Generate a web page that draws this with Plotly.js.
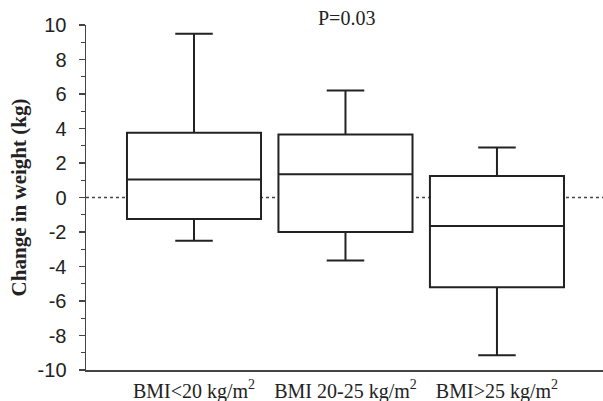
<!DOCTYPE html>
<html>
<head>
<meta charset="utf-8">
<script src="https://cdn.plot.ly/plotly-3.0.1.min.js"></script>
<style>html,body{margin:0;padding:0;background:#fff;}#chart{width:603px;height:401px;}</style>
</head>
<body>
<div id="chart"></div>
<script>
const categories = ["BMI<20 kg/m<sup>2</sup>", "BMI 20-25 kg/m<sup>2</sup>", "BMI>25 kg/m<sup>2</sup>"];
const lowerWhisker = [-2.5, -3.65, -9.15];
const q1Values = [-1.25, -2.0, -5.2];
const medianValues = [1.05, 1.35, -1.65];
const q3Values = [3.75, 3.65, 1.25];
const upperWhisker = [9.5, 6.2, 2.9];
const yTickVals = [-10, -8, -6, -4, -2, 0, 2, 4, 6, 8, 10];
const pLabel = "P=0.03";

const trace = {
  type: 'box',
  x: categories,
  q1: q1Values,
  median: medianValues,
  q3: q3Values,
  lowerfence: lowerWhisker,
  upperfence: upperWhisker,
  width: 0.885,
  whiskerwidth: 0.28,
  fillcolor: '#ffffff',
  line: {color: '#222222', width: 2},
  boxpoints: false,
  hoverinfo: 'skip',
  showlegend: false
};

const layout = {
  width: 603, height: 401,
  margin: {l: 86, r: 0, t: 25, b: 31},
  paper_bgcolor: '#ffffff', plot_bgcolor: '#ffffff',
  showlegend: false,
  xaxis: {
    type: 'category',
    range: [-0.713, 2.70],
    showgrid: false, zeroline: false,
    showline: true, linecolor: '#444444', linewidth: 1.5,
    ticks: '',
    ticklabelstandoff: 2,
    tickfont: {family: 'Liberation Serif, Times New Roman, serif', size: 20, color: '#222'},
    fixedrange: true
  },
  yaxis: {
    range: [-10, 10],
    tickvals: yTickVals,
    ticktext: yTickVals.map(String),
    showgrid: false, zeroline: false,
    showline: true, linecolor: '#444444', linewidth: 1.5,
    ticks: 'outside', ticklen: 6, tickwidth: 1.2, tickcolor: '#444444',
    ticklabelstandoff: 8,
    minor: {dtick: 1, tick0: 0, ticks: 'outside', ticklen: 4, tickwidth: 1, tickcolor: '#444444', showgrid: false},
    tickfont: {family: 'Liberation Sans, Arial, sans-serif', size: 20, color: '#222'},
    title: {text: 'Change in weight (kg)', font: {family: 'Liberation Serif, Times New Roman, serif', size: 21, color: '#222', weight: 'bold'}, standoff: 5},
    fixedrange: true
  },
  shapes: [{
    type: 'line', xref: 'paper', yref: 'y', x0: 0, x1: 1, y0: 0, y1: 0,
    line: {color: '#444444', width: 1.5, dash: 'dot'}, layer: 'below'
  }],
  annotations: [{
    text: pLabel, xref: 'paper', yref: 'paper', x: 0.503, y: 1.0, yanchor: 'middle', xanchor: 'center', yshift: 7,
    showarrow: false, font: {family: 'Liberation Serif, Times New Roman, serif', size: 20, color: '#222'}
  }]
};

Plotly.newPlot('chart', [trace], layout, {staticPlot: true, displayModeBar: false});
</script>
</body>
</html>
